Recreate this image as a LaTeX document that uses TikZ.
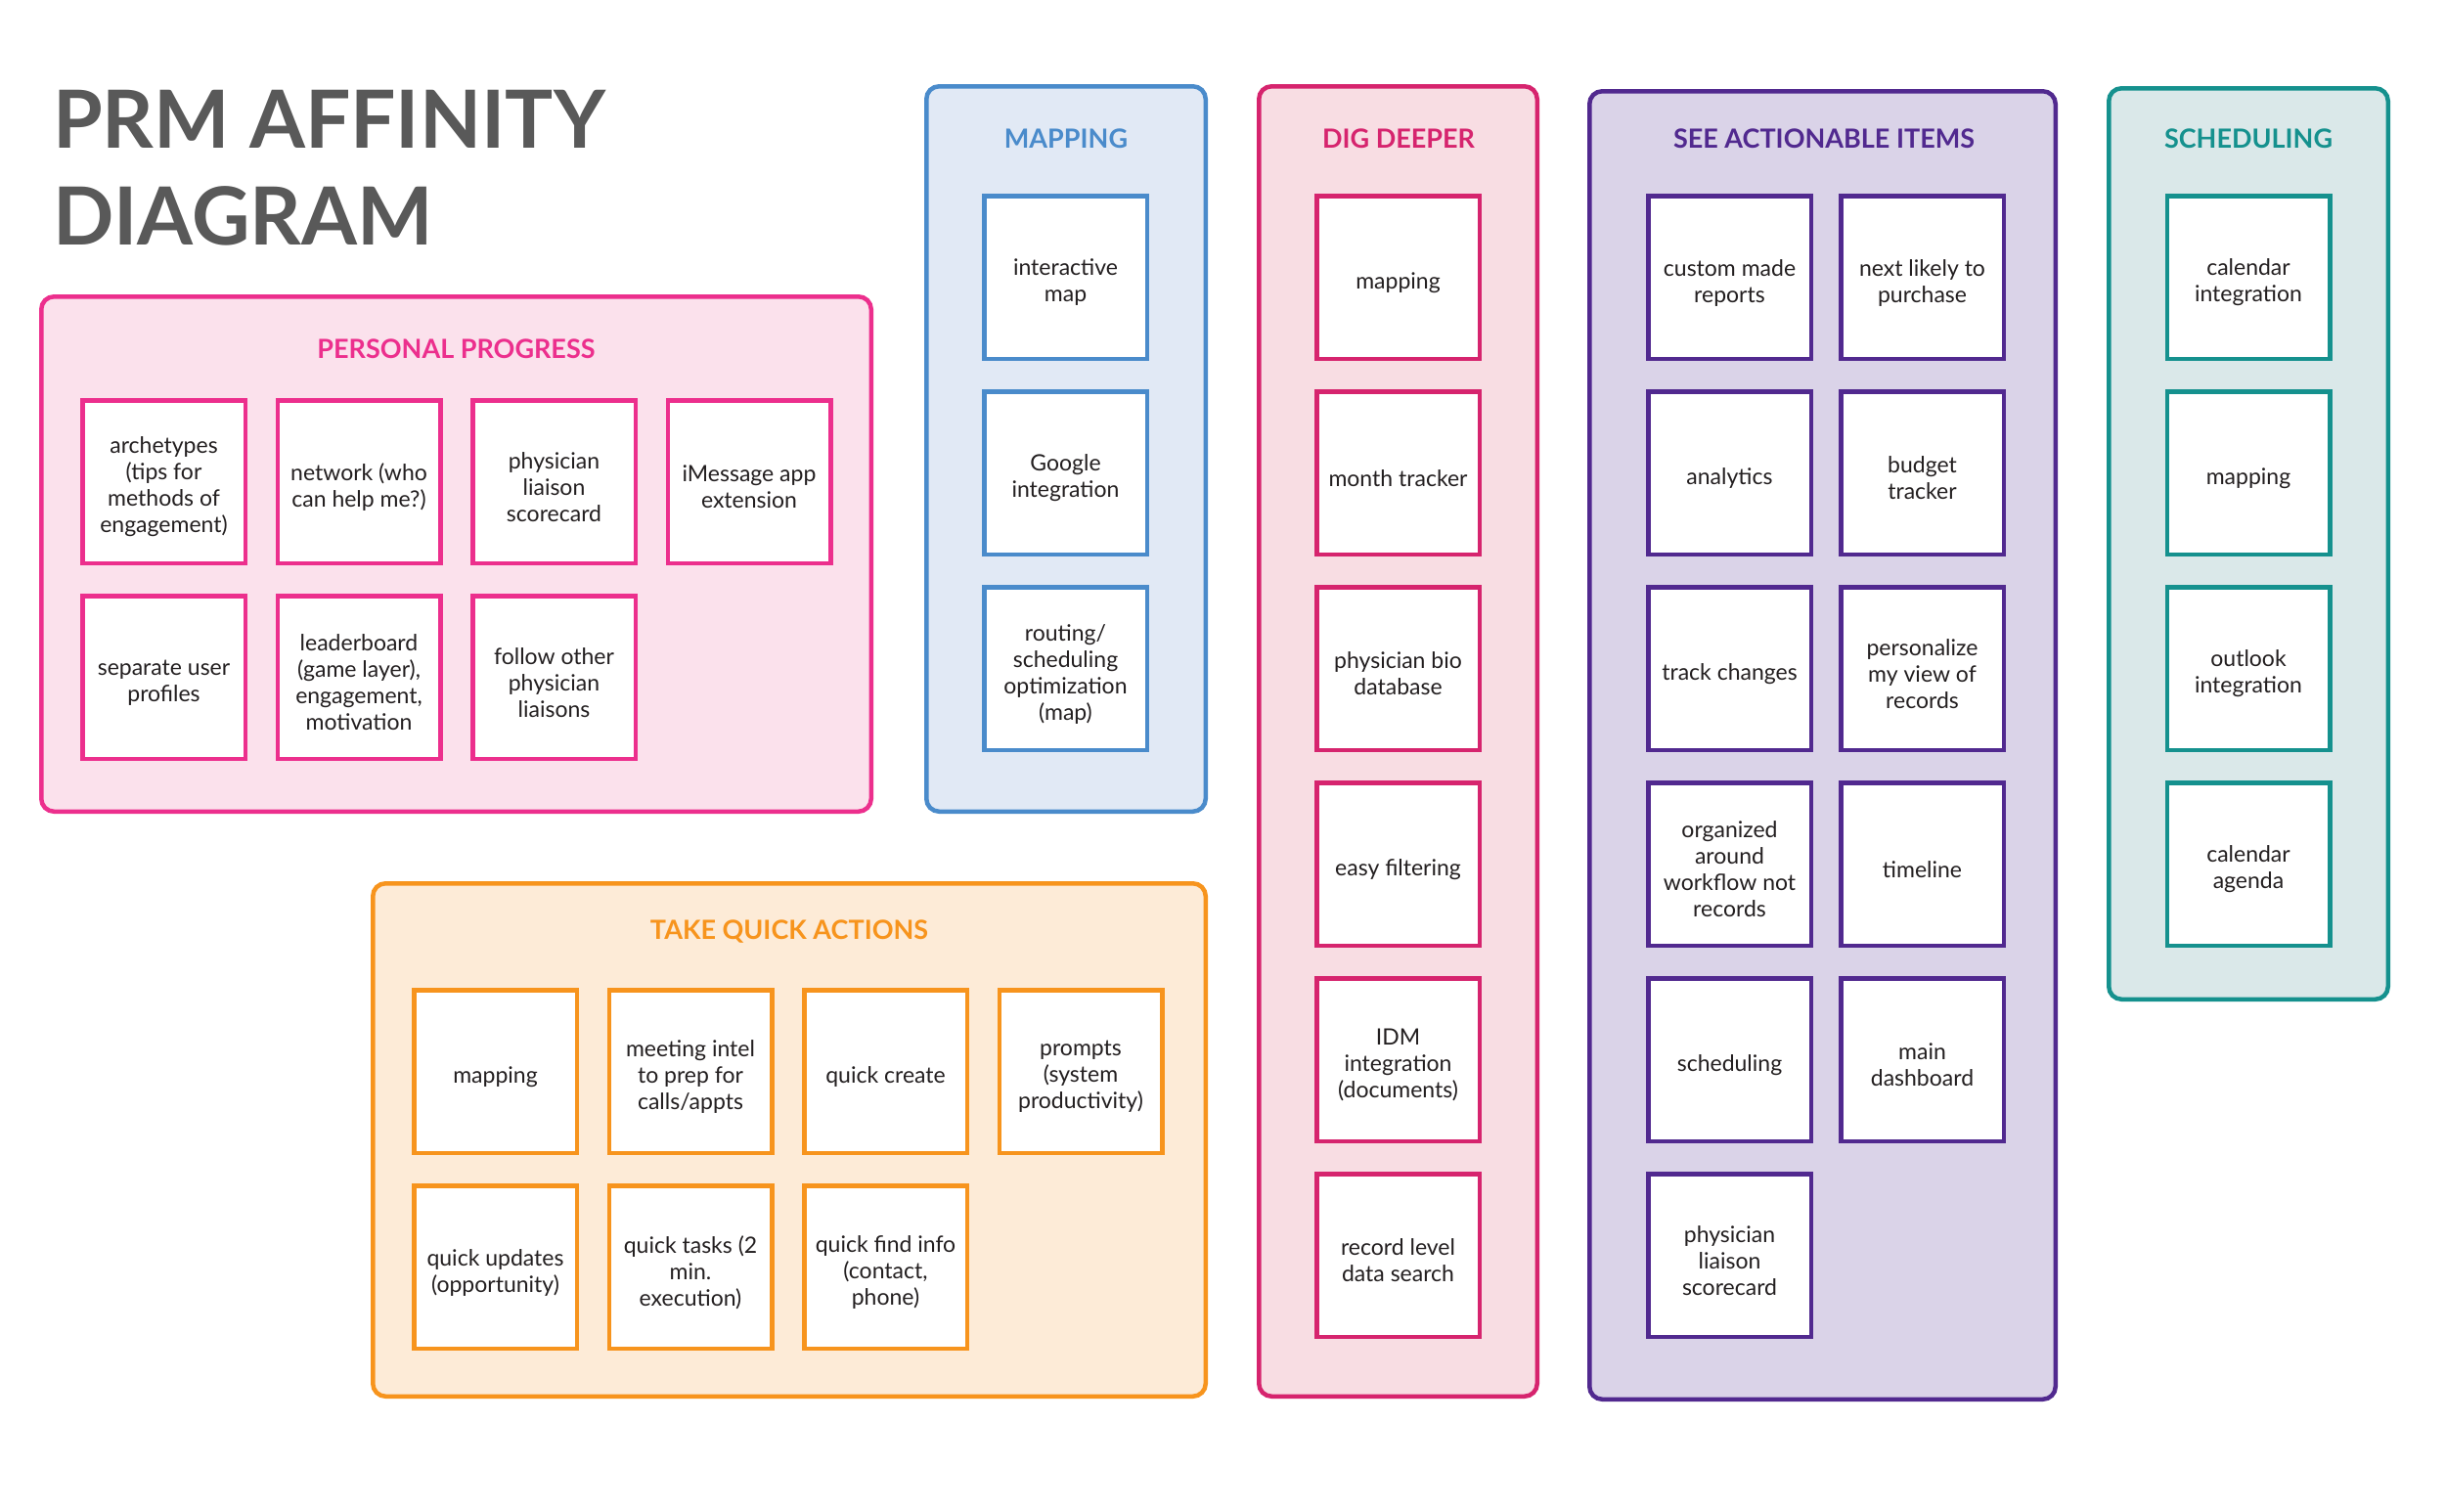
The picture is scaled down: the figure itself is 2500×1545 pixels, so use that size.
\documentclass[tikz,border=0pt]{standalone}
\usepackage{fontspec}
\setmainfont{Lato}
\definecolor{ppS}{RGB}{236,47,141}
\definecolor{ppF}{RGB}{251,225,236}
\definecolor{mpS}{RGB}{74,139,203}
\definecolor{mpF}{RGB}{225,233,245}
\definecolor{ddS}{RGB}{214,36,110}
\definecolor{ddF}{RGB}{248,221,227}
\definecolor{aiS}{RGB}{81,41,143}
\definecolor{aiF}{RGB}{218,211,232}
\definecolor{scS}{RGB}{21,145,142}
\definecolor{scF}{RGB}{218,232,233}
\definecolor{qaS}{RGB}{247,148,29}
\definecolor{qaF}{RGB}{253,235,215}
\definecolor{ttl}{RGB}{89,89,89}
\definecolor{cardtext}{RGB}{35,31,32}
\newcommand\cardfont{\fontsize{23}{27}\selectfont}
\newcommand\grpfont{\fontsize{27}{32}\selectfont\bfseries}
\newcommand\bigfont{\fontsize{82}{99}\selectfont\bfseries}
\tikzset{
  frame/.style 2 args={draw=#1, fill=#2, line width=4.5pt, rounded corners=13pt, inner sep=0pt},
  card/.style={draw=#1, fill=white, line width=4.5pt, minimum width=166.5pt, minimum height=166.5pt, inner sep=0pt},
  cardtxt/.style={inner sep=0pt, align=center, text=cardtext, font=\cardfont, yshift=-5.5pt},
  gtitle/.style={text=#1, font=\grpfont, inner sep=0pt, anchor=base},
  bigtitle/.style={text=ttl, font=\bigfont, inner sep=0pt, anchor=base west},
}
% \stickynote{name}{colour}{x}{y}{text}
\newcommand\stickynote[5]{%
  \node[card=#2] (#1) at (#3,#4) {};
  \node[cardtxt] (#1-t) at (#1.center) {#5};}
\begin{document}
\begin{tikzpicture}[x=1pt,y=-1pt]
\useasboundingbox[fill=white] (0,0) rectangle (2500,1545);
% title
\node[bigtitle] (t1) at (54,151) {PRM AFFINITY};
\node[bigtitle] (t2) at (54,250) {DIAGRAM};
% frames
\node[frame={ppS}{ppF}, minimum width=848.5pt, minimum height=526.5pt] (ppbox) at (466.5,566.5) {};
\node[frame={mpS}{mpF}, minimum width=285.5pt, minimum height=741.5pt] (mpbox) at (1090,459) {};
\node[frame={ddS}{ddF}, minimum width=284.5pt, minimum height=1339.5pt] (ddbox) at (1429.5,758) {};
\node[frame={aiS}{aiF}, minimum width=476.5pt, minimum height=1337.5pt] (aibox) at (1863.5,762) {};
\node[frame={scS}{scF}, minimum width=285.5pt, minimum height=931.5pt] (scbox) at (2299,556) {};
\node[frame={qaS}{qaF}, minimum width=851.5pt, minimum height=524.5pt] (qabox) at (807,1165.5) {};
% group titles
\node[gtitle=ppS] (ppt) at (466.5,366) {PERSONAL PROGRESS};
\node[gtitle=mpS] (mpt) at (1090,151) {MAPPING};
\node[gtitle=ddS] (ddt) at (1430,151) {DIG DEEPER};
\node[gtitle=aiS] (ait) at (1865,151) {SEE ACTIONABLE ITEMS};
\node[gtitle=scS] (sct) at (2299,151) {SCHEDULING};
\node[gtitle=qaS] (qat) at (807,960) {TAKE QUICK ACTIONS};
% personal progress
\stickynote{pp1}{ppS}{167.5}{492.5}{archetypes\\(tips for\\methods of\\engagement)}
\stickynote{pp2}{ppS}{367}{492.5}{network (who\\can help me?)}
\stickynote{pp3}{ppS}{566.5}{492.5}{physician\\liaison\\scorecard}
\stickynote{pp4}{ppS}{766}{492.5}{iMessage app\\extension}
\stickynote{pp5}{ppS}{167.5}{692.5}{separate user\\profiles}
\stickynote{pp6}{ppS}{367}{692.5}{leaderboard\\(game layer),\\engagement,\\motivation}
\stickynote{pp7}{ppS}{566.5}{692.5}{follow other\\physician\\liaisons}
% mapping
\stickynote{mp1}{mpS}{1089.5}{283.5}{interactive\\map}
\stickynote{mp2}{mpS}{1089.5}{483.5}{Google\\integration}
\stickynote{mp3}{mpS}{1089.5}{683.5}{routing/\\scheduling\\optimization\\(map)}
% dig deeper
\stickynote{dd1}{ddS}{1429.5}{283.5}{mapping}
\stickynote{dd2}{ddS}{1429.5}{483.5}{month tracker}
\stickynote{dd3}{ddS}{1429.5}{683.5}{physician bio\\database}
\stickynote{dd4}{ddS}{1429.5}{883.5}{easy filtering}
\stickynote{dd5}{ddS}{1429.5}{1083.5}{IDM\\integration\\(documents)}
\stickynote{dd6}{ddS}{1429.5}{1283.5}{record level\\data search}
% actionable
\stickynote{ai1}{aiS}{1768.5}{283.5}{custom made\\reports}
\stickynote{ai2}{aiS}{1965.5}{283.5}{next likely to\\purchase}
\stickynote{ai3}{aiS}{1768.5}{483.5}{analytics}
\stickynote{ai4}{aiS}{1965.5}{483.5}{budget\\tracker}
\stickynote{ai5}{aiS}{1768.5}{683.5}{track changes}
\stickynote{ai6}{aiS}{1965.5}{683.5}{personalize\\my view of\\records}
\stickynote{ai7}{aiS}{1768.5}{883.5}{organized\\around\\workflow not\\records}
\stickynote{ai8}{aiS}{1965.5}{883.5}{timeline}
\stickynote{ai9}{aiS}{1768.5}{1083.5}{scheduling}
\stickynote{ai10}{aiS}{1965.5}{1083.5}{main\\dashboard}
\stickynote{ai11}{aiS}{1768.5}{1283.5}{physician\\liaison\\scorecard}
% scheduling
\stickynote{sc1}{scS}{2299}{283.5}{calendar\\integration}
\stickynote{sc2}{scS}{2299}{483.5}{mapping}
\stickynote{sc3}{scS}{2299}{683.5}{outlook\\integration}
\stickynote{sc4}{scS}{2299}{883.5}{calendar\\agenda}
% quick actions
\stickynote{qa1}{qaS}{506.5}{1095.5}{mapping}
\stickynote{qa2}{qaS}{706}{1095.5}{meeting intel\\to prep for\\calls/appts}
\stickynote{qa3}{qaS}{905.5}{1095.5}{quick create}
\stickynote{qa4}{qaS}{1105}{1095.5}{prompts\\(system\\productivity)}
\stickynote{qa5}{qaS}{506.5}{1295.5}{quick updates\\(opportunity)}
\stickynote{qa6}{qaS}{706}{1295.5}{quick tasks (2\\min.\\execution)}
\stickynote{qa7}{qaS}{905.5}{1295.5}{quick find info\\(contact,\\phone)}
\end{tikzpicture}
\end{document}
